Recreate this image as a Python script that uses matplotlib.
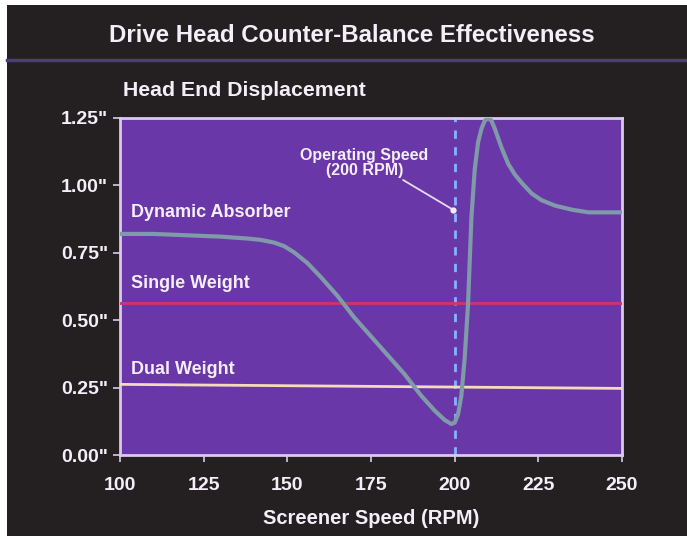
import matplotlib
matplotlib.use("Agg")
import matplotlib.pyplot as plt
from matplotlib.patches import Rectangle

# ─── data ────────────────────────────────────────────────────────────
speed = [100, 110, 120, 130, 138, 142, 146, 149, 152, 156, 160, 165, 170,
         175, 180, 185, 190, 194, 197, 199, 200, 201, 202, 203, 204, 205,
         206, 207, 208, 209, 210, 211, 212, 214, 216, 218, 220, 223, 226,
         230, 235, 240, 245, 250]
dynamic_absorber = [0.82, 0.82, 0.815, 0.81, 0.803, 0.798, 0.788, 0.775,
                    0.752, 0.712, 0.66, 0.59, 0.51, 0.44, 0.37, 0.30, 0.22,
                    0.165, 0.13, 0.115, 0.12, 0.15, 0.22, 0.36, 0.56, 0.88,
                    1.06, 1.16, 1.21, 1.24, 1.25, 1.24, 1.21, 1.14, 1.08,
                    1.04, 1.01, 0.97, 0.945, 0.925, 0.91, 0.90, 0.90, 0.90]
single_x = [100, 250]
single_weight = [0.565, 0.565]
dual_x = [100, 250]
dual_weight = [0.262, 0.247]
operating_speed = 200
xticks = [100, 125, 150, 175, 200, 225, 250]
yticks = [0.0, 0.25, 0.5, 0.75, 1.0, 1.25]
ytick_labels = ['0.00"', '0.25"', '0.50"', '0.75"', '1.00"', '1.25"']

BG = "#241f20"
FACE = "#6a37a8"
FRAME = "#d9c9ee"
TXT = "#f4eef8"
FONT = "Liberation Sans"
plt.rcParams["font.family"] = [FONT, "DejaVu Sans"]
plt.rcParams["font.weight"] = "bold"

fig = plt.figure(figsize=(6.87, 5.39), dpi=100, facecolor="white")
# dark panel behind everything
fig.patches.append(Rectangle((7 / 687, 3 / 539), 1, 1 - 8 / 539,
                             transform=fig.transFigure, facecolor=BG,
                             edgecolor="none", zorder=-10))
# thin purple rule under the title
fig.add_artist(plt.Line2D([7 / 687, 1], [1 - 60 / 539] * 2, color="#4b3d7c",
                          lw=2.5, transform=fig.transFigure, zorder=-5))
fig.text(352 / 687, 1 - 35 / 539, "Drive Head Counter-Balance Effectiveness",
         ha="center", va="center", color=TXT, fontsize=17.3, weight="bold")
fig.text(123 / 687, 1 - 91 / 539, "Head End Displacement", ha="left",
         va="center", color=TXT, fontsize=15.3, weight="bold")

ax = fig.add_axes([120 / 687, 1 - 455 / 539, 502 / 687, 337 / 539])
ax.set_facecolor(FACE)
ax.set_xlim(100, 250)
ax.set_ylim(0, 1.25)

ax.axvline(operating_speed, color="#86b4ff", lw=2, ls=(0, (3, 3)), zorder=2)
ax.plot(single_x, single_weight, color="#d2336c", lw=2, zorder=3)
ax.plot(dual_x, dual_weight, color="#f3dcb8", lw=2, zorder=3)
ax.plot(speed, dynamic_absorber, color="#7f9aa8", lw=3, zorder=4,
        solid_capstyle="round", solid_joinstyle="round")

lab = dict(color=TXT, fontsize=13, weight="bold", ha="left", va="center",
           transform=ax.transAxes)
ax.text(0.022, 0.72, "Dynamic Absorber", **lab)
ax.text(0.022, 0.51, "Single Weight", **lab)
ax.text(0.022, 0.255, "Dual Weight", **lab)

ax.text(0.487, 0.866, "Operating Speed\n(200 RPM)", transform=ax.transAxes,
        ha="center", va="center", color=TXT, fontsize=11.5, weight="bold",
        linespacing=1.05)
ax.annotate("", xy=(operating_speed - 0.5, 0.91), xytext=(0.564, 0.816),
            textcoords="axes fraction",
            arrowprops=dict(arrowstyle="-", color="#e6dcf2", lw=1.3,
                            shrinkA=0, shrinkB=0))
ax.plot([operating_speed - 0.5], [0.91], "o", color="#f0ecf8", ms=3.5,
        zorder=6)

for s in ax.spines.values():
    s.set_color(FRAME)
    s.set_linewidth(2)

ax.set_xticks(xticks)
ax.set_yticks(yticks)
ax.set_yticklabels(ytick_labels)
ax.tick_params(colors=FRAME, length=5, width=1.2, direction="out")
ax.tick_params(axis="both", labelcolor=TXT, labelsize=14)
ax.tick_params(axis="x", pad=11)
for t in ax.get_xticklabels() + ax.get_yticklabels():
    t.set_fontweight("bold")
ax.set_xlabel("Screener Speed (RPM)", color=TXT, fontsize=14.5,
              weight="bold", labelpad=11)

fig.savefig("out.png", dpi=100, facecolor="white")
